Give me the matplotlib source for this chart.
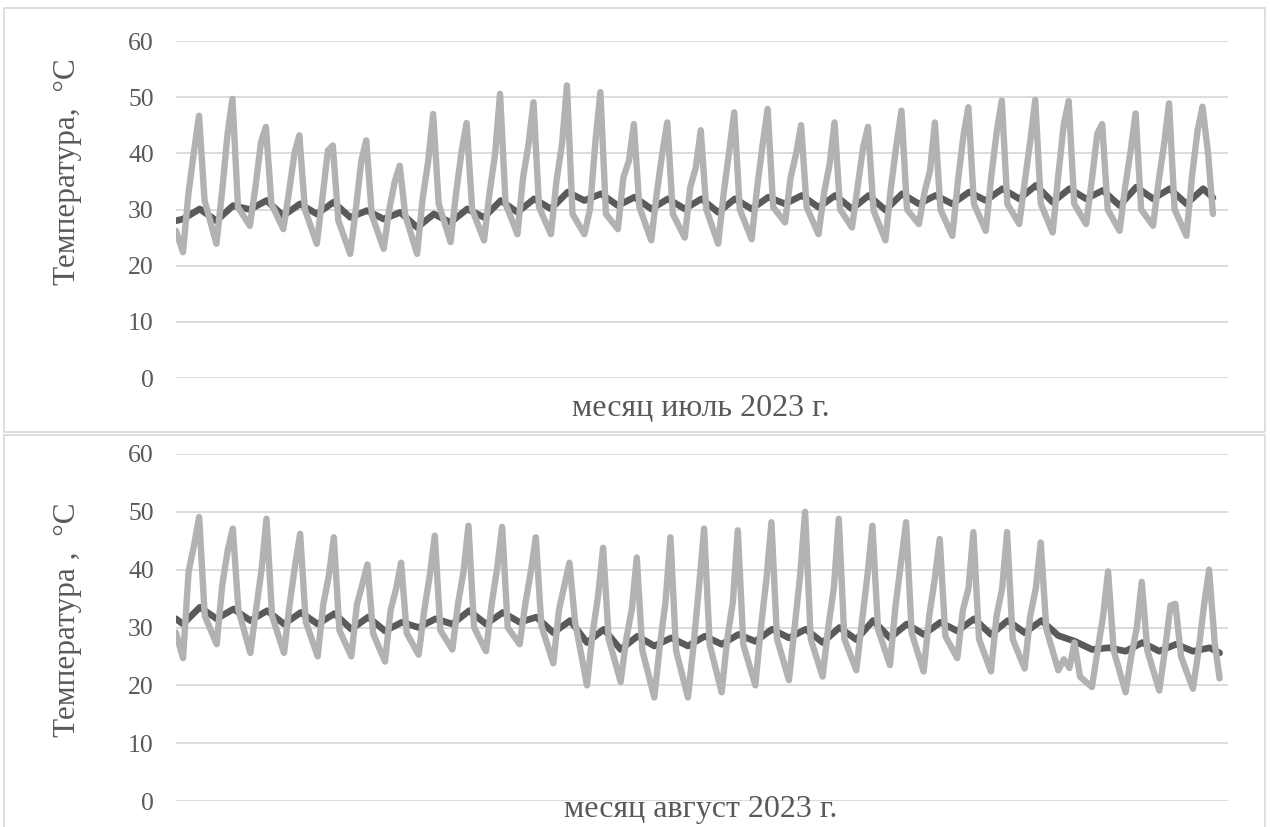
import numpy as np
import matplotlib
matplotlib.use("Agg")
import matplotlib.pyplot as plt
from matplotlib.patches import Rectangle

plt.rcParams['font.family'] = ['Liberation Serif', 'DejaVu Serif']

# часы суток, в которые взяты опорные точки (светлая и тёмная линии)
light_hours = [5, 9, 13, 16.5, 20.5]
dark_hours = [5, 17]

# ---------- июль 2023 ----------
jul_start = 26.2
jul_end = 29.2
jul_trough = [22.4, 23.9, 27.1, 26.5, 23.9, 22.1, 23.0, 22.1, 24.2, 24.5, 25.6,
              25.6, 25.6, 26.5, 24.5, 25.0, 23.9, 24.7, 27.7, 25.6, 26.8, 24.5,
              27.4, 25.3, 26.2, 27.4, 25.9, 27.4, 26.2, 27.1, 25.3]
jul_rise = [33, 33, 34, 33, 32, 30, 30, 32, 33, 33, 35.7, 35.1, 30, 35.7, 33, 34,
            33, 34, 35.7, 33, 34, 34, 33, 35, 36, 35, 36, 35, 34, 35, 36]
jul_shoulder = [40.5, 43.5, 42.0, 40.0, 40.5, 38.7, 35.0, 38.7, 40.5, 40.0, 41.7,
                41.7, 42.3, 38.7, 40.2, 37.5, 40.5, 41.7, 40.0, 38.1, 41.1, 41.7,
                36.9, 43.2, 44.1, 42.3, 45.2, 43.5, 40.5, 41.7, 44.1]
jul_peak = [46.7, 49.7, 44.7, 43.2, 41.4, 42.3, 37.8, 47.0, 45.4, 50.6, 49.1,
            52.1, 50.9, 45.2, 45.5, 44.1, 47.3, 47.9, 45.0, 45.5, 44.7, 47.6,
            45.5, 48.2, 49.4, 49.5, 49.3, 45.2, 47.1, 48.9, 48.3]
jul_drop = [31.6, 30.4, 31, 30, 28, 29, 29, 31, 30, 31, 30.4, 29.2, 29.2, 30.4,
            29.2, 30, 30, 30.4, 30.4, 30, 29.8, 30, 30, 31, 31, 31, 31, 30, 30,
            30, 40]
jul_dark_start = 28.0
jul_dark_end = 32.1
jul_dark_min = [28.3, 28.0, 30.0, 28.9, 29.2, 28.6, 28.3, 26.8, 27.7, 28.6, 29.5,
                30.1, 31.6, 30.7, 30.1, 30.1, 29.5, 30.1, 31.0, 30.4, 30.1, 29.9,
                31.0, 31.0, 31.6, 31.9, 31.3, 31.9, 30.7, 31.9, 31.0]
jul_dark_max = [30.1, 30.7, 31.6, 31.0, 31.3, 29.8, 29.5, 29.2, 30.1, 31.6, 31.9,
                33.1, 32.8, 32.2, 31.9, 31.9, 31.9, 32.2, 32.5, 32.5, 32.5, 32.8,
                32.5, 33.1, 33.7, 34.3, 33.7, 33.4, 34.0, 33.7, 33.7]

# ---------- август 2023 ----------
aug_start = 29.1
aug_end = 21.2
aug_trough = [24.7, 27.1, 25.6, 25.6, 25.0, 25.0, 24.1, 25.3, 26.2, 25.9, 27.1,
              23.8, 20.0, 20.6, 17.9, 17.9, 18.8, 20.0, 20.9, 21.5, 22.6, 23.5,
              22.4, 24.7, 22.4, 22.9, 22.6, 19.7, 18.8, 19.1, 19.4]
aug_rise = [39.7, 37.4, 33, 34, 34, 34, 33, 33, 34, 34, 34, 33, 29, 28, 27, 27,
            28, 30, 30, 30, 31, 33.8, 32, 33, 32, 32, 24.5, 26, 25, 26, 26]
aug_shoulder = [44.4, 43.5, 40.0, 40.9, 39.0, 37.6, 36.8, 39.1, 39.7, 40.3, 39.7,
                37.4, 35.6, 33.2, 34.4, 37.4, 34.4, 38.5, 39.1, 36.8, 39.1, 41.5,
                38.5, 36.8, 36.8, 36.8, 23.0, 32.0, 30.0, 33.8, 34.0]
aug_peak = [49.1, 47.1, 48.8, 46.2, 45.6, 40.9, 41.2, 45.9, 47.6, 47.4, 45.6,
            41.2, 43.8, 42.1, 45.6, 47.1, 46.8, 48.2, 50.0, 48.8, 47.6, 48.2,
            45.3, 46.5, 46.5, 44.7, 27.4, 39.7, 37.9, 34.1, 40.0]
aug_drop = [32, 33, 32, 31, 29.5, 29, 29, 29.5, 30, 30, 30.3, 31, 28, 26, 26, 27,
            27, 28, 28, 28, 29.7, 29, 28.5, 28, 28, 29.7, 21.5, 26, 26, 25, 27.4]
aug_dark_start = 31.5
aug_dark_end = 25.6
aug_dark_min = [30.6, 31.5, 31.2, 30.6, 30.6, 29.7, 29.4, 30.0, 30.6, 30.6, 30.9,
                29.1, 27.4, 26.2, 26.8, 26.8, 27.1, 27.6, 28.2, 27.4, 27.9, 28.2,
                28.8, 29.4, 28.8, 29.1, 28.6, 26.2, 25.9, 25.9, 25.9]
aug_dark_max = [33.5, 33.2, 32.9, 32.6, 32.4, 31.8, 30.9, 31.5, 32.9, 32.6, 31.8,
                31.2, 29.7, 28.5, 28.2, 28.5, 28.8, 29.7, 29.7, 30.0, 31.2, 30.6,
                30.9, 31.5, 31.2, 31.2, 27.6, 26.5, 27.4, 27.1, 26.5]

y_ticks = [0, 10, 20, 30, 40, 50, 60]


def build(start, cols, hours, end):
    ndays = len(cols[0])
    t = [0.0]
    v = [start]
    for d in range(ndays):
        for h, col in zip(hours, cols):
            t.append(d + h / 24.0)
            v.append(col[d])
    t.append(float(ndays))
    v.append(end)
    return np.array(t), np.array(v)


W, H = 1270, 827
fig = plt.figure(figsize=(W / 100, H / 100), dpi=100)

grid_c = '#d9d9d9'
light_c = '#b2b2b2'
dark_c = '#5a5a5a'
text_c = '#595959'

# рамки двух диаграмм
fig.patches.append(Rectangle((4 / W, 1 - 432 / H), 1261 / W, 424 / H,
                             transform=fig.transFigure, fill=False,
                             ec=grid_c, lw=1.2))
fig.patches.append(Rectangle((4 / W, 1 - 832 / H), 1261 / W, 397 / H,
                             transform=fig.transFigure, fill=False,
                             ec=grid_c, lw=1.2))

panels = [
    dict(rect=[176 / W, 1 - 378 / H, 1052 / W, 337 / H], xmax=31.45,
         light=build(jul_start, [jul_trough, jul_rise, jul_shoulder, jul_peak, jul_drop],
                     light_hours, jul_end),
         dark=build(jul_dark_start, [jul_dark_min, jul_dark_max], dark_hours, jul_dark_end),
         ylabel='Температура,  °С', ylab_y=172,
         xlabel='месяц июль 2023 г.', xlab_y=408),
    dict(rect=[176 / W, 1 - 801 / H, 1052 / W, 347 / H], xmax=31.25,
         light=build(aug_start, [aug_trough, aug_rise, aug_shoulder, aug_peak, aug_drop],
                     light_hours, aug_end),
         dark=build(aug_dark_start, [aug_dark_min, aug_dark_max], dark_hours, aug_dark_end),
         ylabel='Температура ,  °С', ylab_y=620,
         xlabel='месяц август 2023 г.', xlab_y=810),
]

for p in panels:
    ax = fig.add_axes(p['rect'])
    ax.plot(*p['dark'], color=dark_c, lw=4.8, solid_joinstyle='round',
            solid_capstyle='round', zorder=3)
    ax.plot(*p['light'], color=light_c, lw=4.6, solid_joinstyle='round',
            solid_capstyle='round', zorder=4)
    ax.set_xlim(0, p['xmax'])
    ax.set_ylim(0, 60)
    ax.set_yticks(y_ticks)
    ax.set_xticks([])
    ax.grid(axis='y', color=grid_c, lw=1.3, zorder=0)
    ax.set_axisbelow(True)
    for s in ax.spines.values():
        s.set_visible(False)
    ax.tick_params(axis='y', length=0, pad=16, labelsize=18.5, labelcolor=text_c)
    fig.text(68 / W, 1 - p['ylab_y'] / H, p['ylabel'], rotation=90,
             ha='center', va='center', fontsize=22.5, color=text_c)
    fig.text(701 / W, 1 - p['xlab_y'] / H, p['xlabel'],
             ha='center', va='center', fontsize=23, color=text_c)

fig.savefig('out.png', dpi=100)
